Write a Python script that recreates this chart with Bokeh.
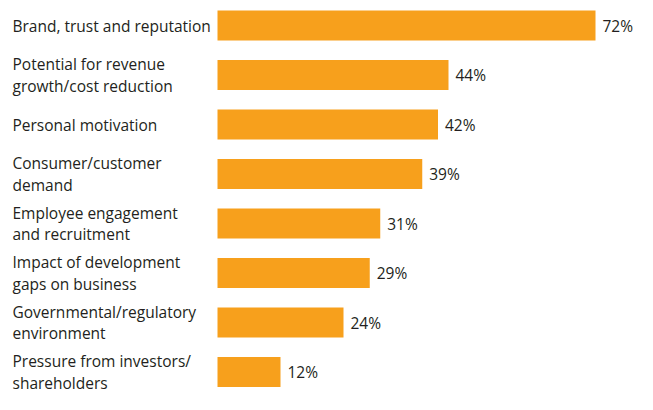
from bokeh.plotting import figure
from bokeh.models import ColumnDataSource, Range1d, LabelSet
from bokeh.core.properties import value
from bokeh.embed import file_html
from bokeh.resources import INLINE

categories = [
    "Brand, trust and reputation",
    "Potential for revenue\ngrowth/cost reduction",
    "Personal motivation",
    "Consumer/customer\ndemand",
    "Employee engagement\nand recruitment",
    "Impact of development\ngaps on business",
    "Governmental/regulatory\nenvironment",
    "Pressure from investors/\nshareholders",
]
values = [72, 44, 42, 39, 31, 29, 24, 12]
value_labels = [f"{v}%" for v in values]

W, H = 637, 394
BAR_LEFT_PX = 217
PX_PER_UNIT = 5.25
FIRST_CENTER_PX = 25
STEP_PX = 49.5
BAR_PX = 30

idx = list(range(len(categories)))
src = ColumnDataSource(dict(idx=idx, cat=categories, val=values, lab=value_labels))

p = figure(width=W, height=H, output_backend="svg", toolbar_location=None,
           x_range=Range1d(-BAR_LEFT_PX / PX_PER_UNIT, (W - BAR_LEFT_PX) / PX_PER_UNIT),
           y_range=Range1d((H - FIRST_CENTER_PX) / STEP_PX, -FIRST_CENTER_PX / STEP_PX),
           min_border=0, background_fill_color="white", border_fill_color="white")
p.axis.visible = False
p.grid.visible = False
p.outline_line_color = None

p.hbar(y="idx", left=0, right="val", height=BAR_PX / STEP_PX, source=src,
       fill_color="#F7A01C", line_color=None)

p.text(x="val", y="idx", text="lab", source=src, x_offset=7,
       text_baseline="middle", text_align="left",
       text_font=value("Open Sans"), text_font_size="15.5px", text_color="#231f20")

labels = LabelSet(x=12, y="idx", x_units="screen", text="cat", source=src,
                  text_baseline="middle", text_align="left",
                  text_font=value("Open Sans"), text_font_size="15.5px",
                  text_color="#231f20", text_line_height=0.97)
p.add_layout(labels)

open("out.html", "w").write(file_html(p, INLINE))
